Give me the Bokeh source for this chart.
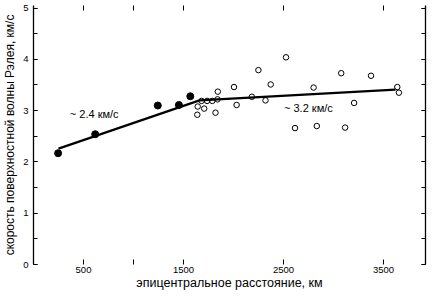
from bokeh.plotting import figure
from bokeh.models import LinearAxis, FixedTicker, SingleIntervalTicker, Label
from bokeh.embed import file_html
from bokeh.resources import INLINE

# Data
filled_x = [246, 617, 1243, 1454, 1568]
filled_y = [2.17, 2.54, 3.10, 3.11, 3.28]

open_x = [1642, 1681, 1736, 1788, 1707, 1638, 1820, 1843, 1840, 2005, 2031, 2184,
          2249, 2320, 2372, 2525, 2615, 2801, 2833, 3077, 3116, 3206, 3375, 3638, 3654]
open_y = [3.08, 3.19, 3.19, 3.19, 3.04, 2.92, 2.96, 3.37, 3.22, 3.46, 3.11, 3.27,
          3.79, 3.20, 3.51, 4.04, 2.66, 3.45, 2.70, 3.73, 2.67, 3.15, 3.68, 3.46, 3.35]

fit_x = [250, 1660, 3620]
fit_y = [2.26, 3.20, 3.41]

x_ticks = [500, 1000, 1500, 2500, 3500]
x_tick_labels = {500: "500", 1000: "", 1500: "1500", 2500: "2500", 3500: "3500"}

FONT = "Liberation Sans"

p = figure(width=427, height=292, x_range=(0, 3920), y_range=(0, 5.05),
           output_backend="svg", toolbar_location=None,
           x_axis_location=None, y_axis_location=None,
           min_border_left=0, min_border_right=2, min_border_top=5, min_border_bottom=0)
p.outline_line_color = None
p.background_fill_color = "white"
p.border_fill_color = "white"
for g in p.grid:
    g.visible = False

bottom = LinearAxis(ticker=FixedTicker(ticks=x_ticks, minor_ticks=[]),
                    major_label_overrides=x_tick_labels)
bottom.axis_line_color = None
bottom.major_tick_in = 5
bottom.major_tick_out = 0
bottom.minor_tick_line_color = None
bottom.major_label_text_font = FONT
bottom.major_label_text_font_size = "9.5px"
bottom.major_label_text_color = "black"
bottom.major_label_standoff = 2
bottom.axis_label = "эпицентральное расстояние, км"
bottom.axis_label_text_font = FONT
bottom.axis_label_text_font_size = "12.5px"
bottom.axis_label_text_font_style = "normal"
bottom.axis_label_text_color = "black"
bottom.axis_label_standoff = 0
p.add_layout(bottom, "below")

top = LinearAxis(ticker=FixedTicker(ticks=x_ticks, minor_ticks=[]),
                 major_label_overrides={t: "" for t in x_ticks})
top.axis_line_color = None
top.major_tick_in = 5
top.major_tick_out = 0
top.minor_tick_line_color = None
top.major_label_text_font_size = "1px"
top.major_label_standoff = 0
p.add_layout(top, "above")

left = LinearAxis(ticker=SingleIntervalTicker(interval=1, num_minor_ticks=2))
left.axis_line_color = "black"
left.axis_line_width = 1.3
left.major_tick_in = 4
left.major_tick_out = 0
left.minor_tick_in = 4
left.minor_tick_out = 0
left.major_label_text_font = FONT
left.major_label_text_font_size = "9.5px"
left.major_label_text_color = "black"
left.major_label_standoff = 5
left.axis_label = "скорость поверхностной волны Рэлея, км/с"
left.axis_label_text_font = FONT
left.axis_label_text_font_size = "12px"
left.axis_label_text_font_style = "normal"
left.axis_label_text_color = "black"
left.axis_label_standoff = 3
p.add_layout(left, "left")

right = LinearAxis(ticker=SingleIntervalTicker(interval=1, num_minor_ticks=2),
                   major_label_overrides={i: "" for i in range(0, 6)})
right.axis_line_color = "black"
right.axis_line_width = 1.3
right.major_tick_in = 4
right.major_tick_out = 0
right.minor_tick_in = 4
right.minor_tick_out = 0
right.major_label_text_font_size = "1px"
right.major_label_standoff = 0
p.add_layout(right, "right")

p.line(fit_x, fit_y, line_width=2.2, line_color="black")
p.scatter(open_x, open_y, marker="circle", size=5.5, fill_color=None,
          line_color="black", line_width=1)
p.scatter(filled_x, filled_y, marker="circle", size=7, fill_color="black",
          line_color="black")

p.add_layout(Label(x=363, y=2.93, text="~ 2.4 км/с", text_font=FONT,
                   text_font_size="11px", text_baseline="middle", text_align="left",
                   text_color="black"))
p.add_layout(Label(x=2505, y=3.05, text="~ 3.2 км/с", text_font=FONT,
                   text_font_size="11px", text_baseline="middle", text_align="left",
                   text_color="black"))

open("out.html", "w").write(file_html(p, INLINE))
